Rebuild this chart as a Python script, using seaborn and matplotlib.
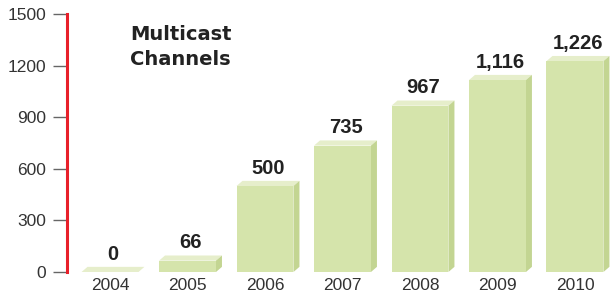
import pandas as pd
import numpy as np
import matplotlib.pyplot as plt
import seaborn as sns
from matplotlib.patches import Polygon

years = ["2004", "2005", "2006", "2007", "2008", "2009", "2010"]
channels = [0, 66, 500, 735, 967, 1116, 1226]
value_labels = ["0", "66", "500", "735", "967", "1,116", "1,226"]
yticks = [0, 300, 600, 900, 1200, 1500]

df = pd.DataFrame({"year": years, "channels": channels})

sns.set_style("white")
plt.rcParams["font.family"] = ["Liberation Sans", "DejaVu Sans"]

face = "#d5e4ab"
side = "#c3d592"
top = "#e6eecb"

fig = plt.figure(figsize=(6.11, 2.96), dpi=100)
ax = fig.add_axes([67 / 611, 24 / 296, 544 / 611, 258 / 296])
sns.barplot(data=df, x="year", y="channels", color=face, width=0.735,
            saturation=1, edgecolor="none", linewidth=0, ax=ax, zorder=3)

# pseudo 3d: side and top faces, offset in display pixels
dx_px, dy_px = 6, 6
to_data = ax.transData.inverted()
for p in ax.patches:
    x0, y0 = p.get_x(), p.get_y()
    w, h = p.get_width(), p.get_height()
    a = ax.transData.transform((x0, y0 + h))
    odx, ody = to_data.transform((a[0] + dx_px, a[1] + dy_px)) - to_data.transform(a)
    ax.add_patch(Polygon([(x0, y0 + h), (x0 + w, y0 + h), (x0 + w + odx, y0 + h + ody),
                          (x0 + odx, y0 + h + ody)], closed=True, fc=top, ec="none", zorder=2))
    ax.add_patch(Polygon([(x0 + w, y0), (x0 + w + odx, y0 + ody), (x0 + w + odx, y0 + h + ody),
                          (x0 + w, y0 + h)], closed=True, fc=side, ec="none", zorder=2))

for i, (v, lab) in enumerate(zip(channels, value_labels)):
    ax.annotate(lab, (i + 0.04, v), xytext=(0, 6), textcoords="offset points",
                ha="center", va="bottom", fontsize=14.5, fontweight="bold", color="#222222")

ax.set_xlim(-0.555, 6.465)
ax.set_ylim(0, 1500)
ax.set_yticks(yticks)
ax.set_xlabel("")
ax.set_ylabel("")
sns.despine(ax=ax, top=True, right=True, bottom=True)
ax.spines["left"].set_color("#e8202a")
ax.spines["left"].set_linewidth(2.2)
ax.tick_params(axis="y", left=True, length=10, width=1, color="#666666",
               labelsize=12.5, labelcolor="#333333", pad=5)
ax.tick_params(axis="x", bottom=False, labelsize=12.5, labelcolor="#333333", pad=1)

fig.text(130 / 611, 1 - 47 / 296, "Multicast\nChannels", ha="left", va="center",
         fontsize=14, fontweight="bold", color="#222222", family=["DejaVu Sans"],
         linespacing=1.45)

fig.savefig("out.png", dpi=100)
